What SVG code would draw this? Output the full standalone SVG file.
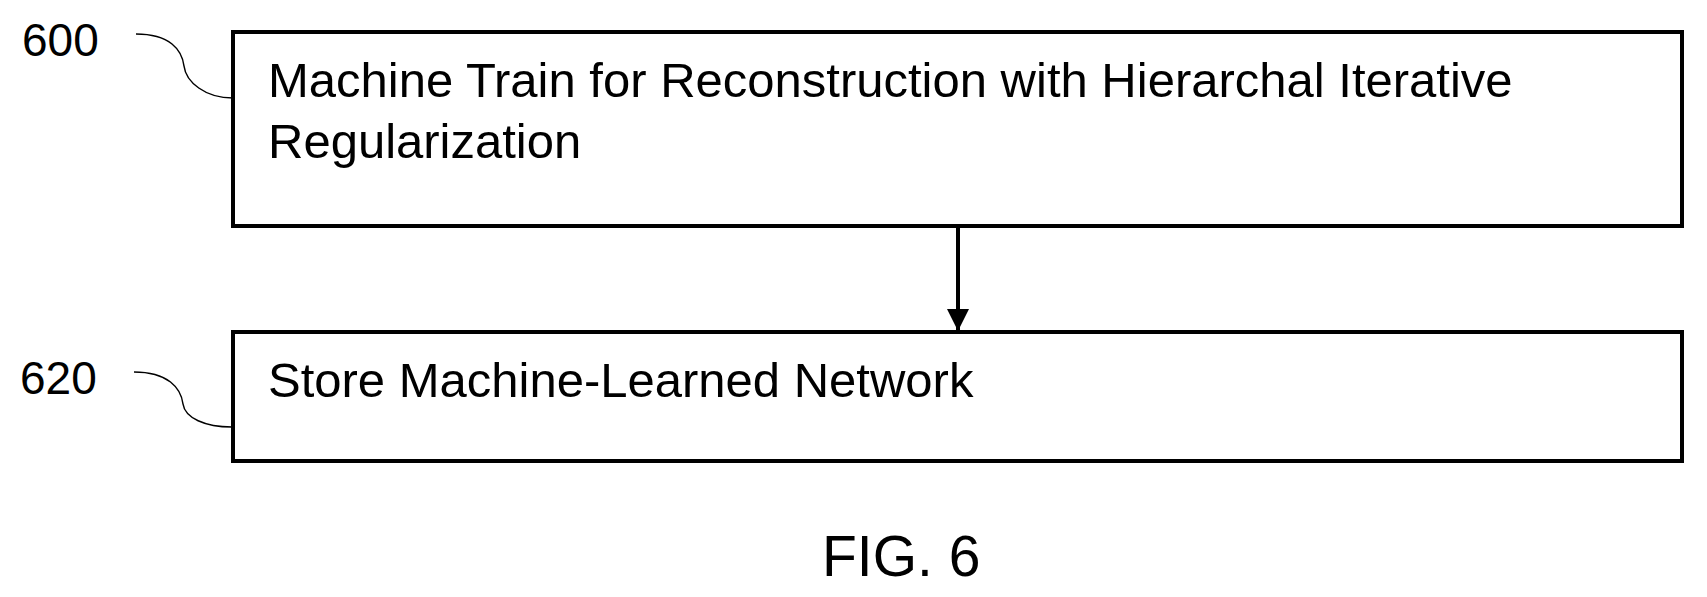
<svg xmlns="http://www.w3.org/2000/svg" width="1707" height="597" viewBox="0 0 1707 597">
<style>
.box{fill:#fff;stroke:#000;stroke-width:4}
.t{font-family:"Liberation Sans",Arial,sans-serif;fill:#000}
.lead{fill:none;stroke:#000;stroke-width:1.5}
</style>
<defs><marker id="ah" markerWidth="22" markerHeight="22" refX="22" refY="11" orient="auto" markerUnits="userSpaceOnUse"><path d="M0,0 L22,11 L0,22 z" fill="#000"/></marker></defs>
<rect width="1707" height="597" fill="#fff"/>
<g id="n600">
<rect class="box" x="233" y="32" width="1449" height="194"/>
<text class="t" x="268" y="97" font-size="49">Machine Train for Reconstruction with Hierarchal Iterative</text>
<text class="t" x="268" y="158" font-size="49">Regularization</text>
<text class="t" x="22" y="56" font-size="46">600</text>
<path class="lead" d="M136,34 C170,34 182,50 184,66 C186,82 205,98 233,98"/>
</g>
<g id="n620">
<rect class="box" x="233" y="332" width="1449" height="129"/>
<text class="t" x="268" y="397" font-size="49">Store Machine-Learned Network</text>
<text class="t" x="20" y="394" font-size="46">620</text>
<path class="lead" d="M134,372 C168,372 181,388 183,404 C185,418 205,427 232,427"/>
</g>
<g id="connectors">
<line x1="958" y1="226" x2="958" y2="331" stroke="#000" stroke-width="4" marker-end="url(#ah)"/>
</g>
<text class="t" x="822" y="576" font-size="57">FIG. 6</text>
</svg>
